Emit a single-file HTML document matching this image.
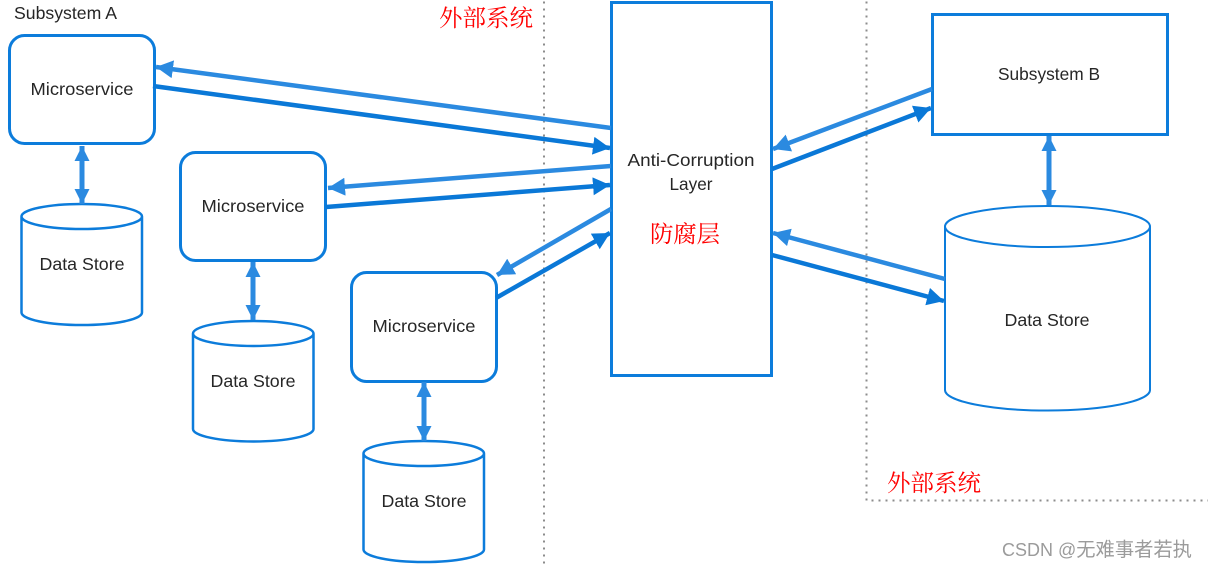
<!DOCTYPE html>
<html><head><meta charset="utf-8"><style>
html,body{margin:0;padding:0;background:#fff;width:1209px;height:568px;overflow:hidden}
svg{display:block}
.t{font-family:"Liberation Sans",sans-serif;font-size:17.5px;fill:#262626;text-anchor:middle}
.r{font-family:"Noto Serif CJK SC","WenQuanYi Zen Hei",serif;font-size:23.5px;fill:#f00}
.b{fill:#fff;stroke:#0c7cdb;stroke-width:3}
.c{fill:#fff;stroke:#0c7cdb;stroke-width:2.500}
.l{stroke:#2b8ae0;stroke-width:4.500;fill:none}
.v{stroke:#2b8ae0;stroke-width:5;fill:none}
.d{stroke:#0a78d7;stroke-width:4.500;fill:none}
.tl{fill:#2b8ae0}.td{fill:#0a78d7}
.s{stroke:#8c8c8c;stroke-width:2;stroke-dasharray:2 5;fill:none}
</style></head><body>
<svg width="1209" height="568" viewBox="0 0 1209 568" xmlns="http://www.w3.org/2000/svg">
<defs>
<marker id="ml" markerUnits="userSpaceOnUse" markerWidth="20" markerHeight="20" refX="17" refY="9" orient="auto"><path d="M0 0L17 9L0 18z" class="tl"/></marker>
<marker id="md" markerUnits="userSpaceOnUse" markerWidth="20" markerHeight="20" refX="17" refY="9" orient="auto"><path d="M0 0L17 9L0 18z" class="td"/></marker>
<marker id="ms" markerUnits="userSpaceOnUse" markerWidth="20" markerHeight="20" refX="15" refY="8" orient="auto-start-reverse"><path d="M0 0.500L15 8L0 15.500z" class="tl"/></marker>
</defs>

<path class="s" d="M544 1.500V566"/>
<path class="s" d="M866.500 1.500V500.500H1208"/>

<rect class="b" x="9.500" y="35.500" width="145" height="108" rx="15"/>
<rect class="b" x="180.500" y="152.500" width="145" height="108" rx="15"/>
<rect class="b" x="351.500" y="272.500" width="145" height="109" rx="15"/>
<rect class="b" x="611.500" y="2.500" width="160" height="373"/>
<rect class="b" x="932.500" y="14.500" width="235" height="120"/>

<path class="c" d="M21.500 216.500A60.250 12.500 0 0 1 142 216.500V312.500A60.250 12.500 0 0 1 21.500 312.500Z M21.500 216.500A60.250 12.500 0 0 0 142 216.500"/>
<path class="c" d="M193 333.500A60.250 12.500 0 0 1 313.500 333.500V429A60.250 12.500 0 0 1 193 429Z M193 333.500A60.250 12.500 0 0 0 313.500 333.500"/>
<path class="c" d="M363.500 453.500A60.250 12.500 0 0 1 484 453.500V549.500A60.250 12.500 0 0 1 363.500 549.500Z M363.500 453.500A60.250 12.500 0 0 0 484 453.500"/>
<path class="c" style="stroke-width:2" d="M945 226.500A102.500 20.500 0 0 1 1150 226.500V390A102.500 20.500 0 0 1 945 390Z M945 226.500A102.500 20.500 0 0 0 1150 226.500"/>

<path class="v" d="M82 146V204" marker-start="url(#ms)" marker-end="url(#ms)"/>
<path class="v" d="M253 262V320" marker-start="url(#ms)" marker-end="url(#ms)"/>
<path class="v" d="M424 382V441" marker-start="url(#ms)" marker-end="url(#ms)"/>
<path class="v" d="M1049 136V205" marker-start="url(#ms)" marker-end="url(#ms)"/>

<path class="l" d="M611 128L156 67" marker-end="url(#ml)"/>
<path class="d" d="M153 86L610 148" marker-end="url(#md)"/>
<path class="l" d="M611 166L328 188" marker-end="url(#ml)"/>
<path class="d" d="M326 207L610 185" marker-end="url(#md)"/>
<path class="l" d="M611 209L497 275" marker-end="url(#ml)"/>
<path class="d" d="M496 298L610 233" marker-end="url(#md)"/>
<path class="l" d="M932 89L773 149" marker-end="url(#ml)"/>
<path class="d" d="M772 169L931 108" marker-end="url(#md)"/>
<path class="l" d="M945 279L773 233" marker-end="url(#ml)"/>
<path class="d" d="M772 255L944 301" marker-end="url(#md)"/>

<text x="14" y="19" class="t" style="text-anchor:start" textLength="103" lengthAdjust="spacingAndGlyphs">Subsystem A</text>
<text x="82" y="95" class="t" textLength="103" lengthAdjust="spacingAndGlyphs">Microservice</text>
<text x="253" y="212" class="t" textLength="103" lengthAdjust="spacingAndGlyphs">Microservice</text>
<text x="424" y="332" class="t" textLength="103" lengthAdjust="spacingAndGlyphs">Microservice</text>
<text x="82" y="270" class="t" textLength="85" lengthAdjust="spacingAndGlyphs">Data Store</text>
<text x="253" y="387" class="t" textLength="85" lengthAdjust="spacingAndGlyphs">Data Store</text>
<text x="424" y="507" class="t" textLength="85" lengthAdjust="spacingAndGlyphs">Data Store</text>
<text x="1047" y="326" class="t" textLength="85" lengthAdjust="spacingAndGlyphs">Data Store</text>
<text x="1049" y="80" class="t" textLength="102" lengthAdjust="spacingAndGlyphs">Subsystem B</text>
<text x="691" y="166" class="t" textLength="127" lengthAdjust="spacingAndGlyphs">Anti-Corruption</text>
<text x="691" y="190" class="t" textLength="43" lengthAdjust="spacingAndGlyphs">Layer</text>

<text x="439" y="26" class="r" textLength="94">外部系统</text>
<text x="887" y="491" class="r" textLength="94">外部系统</text>
<text x="650" y="242" class="r" textLength="70">防腐层</text>
<text x="1002" y="556" font-family="'Liberation Sans','Noto Sans CJK SC',sans-serif" font-size="18" fill="#9b9b9b">CSDN @<tspan font-size="19.3">无难事者若执</tspan></text>
</svg>
</body></html>
